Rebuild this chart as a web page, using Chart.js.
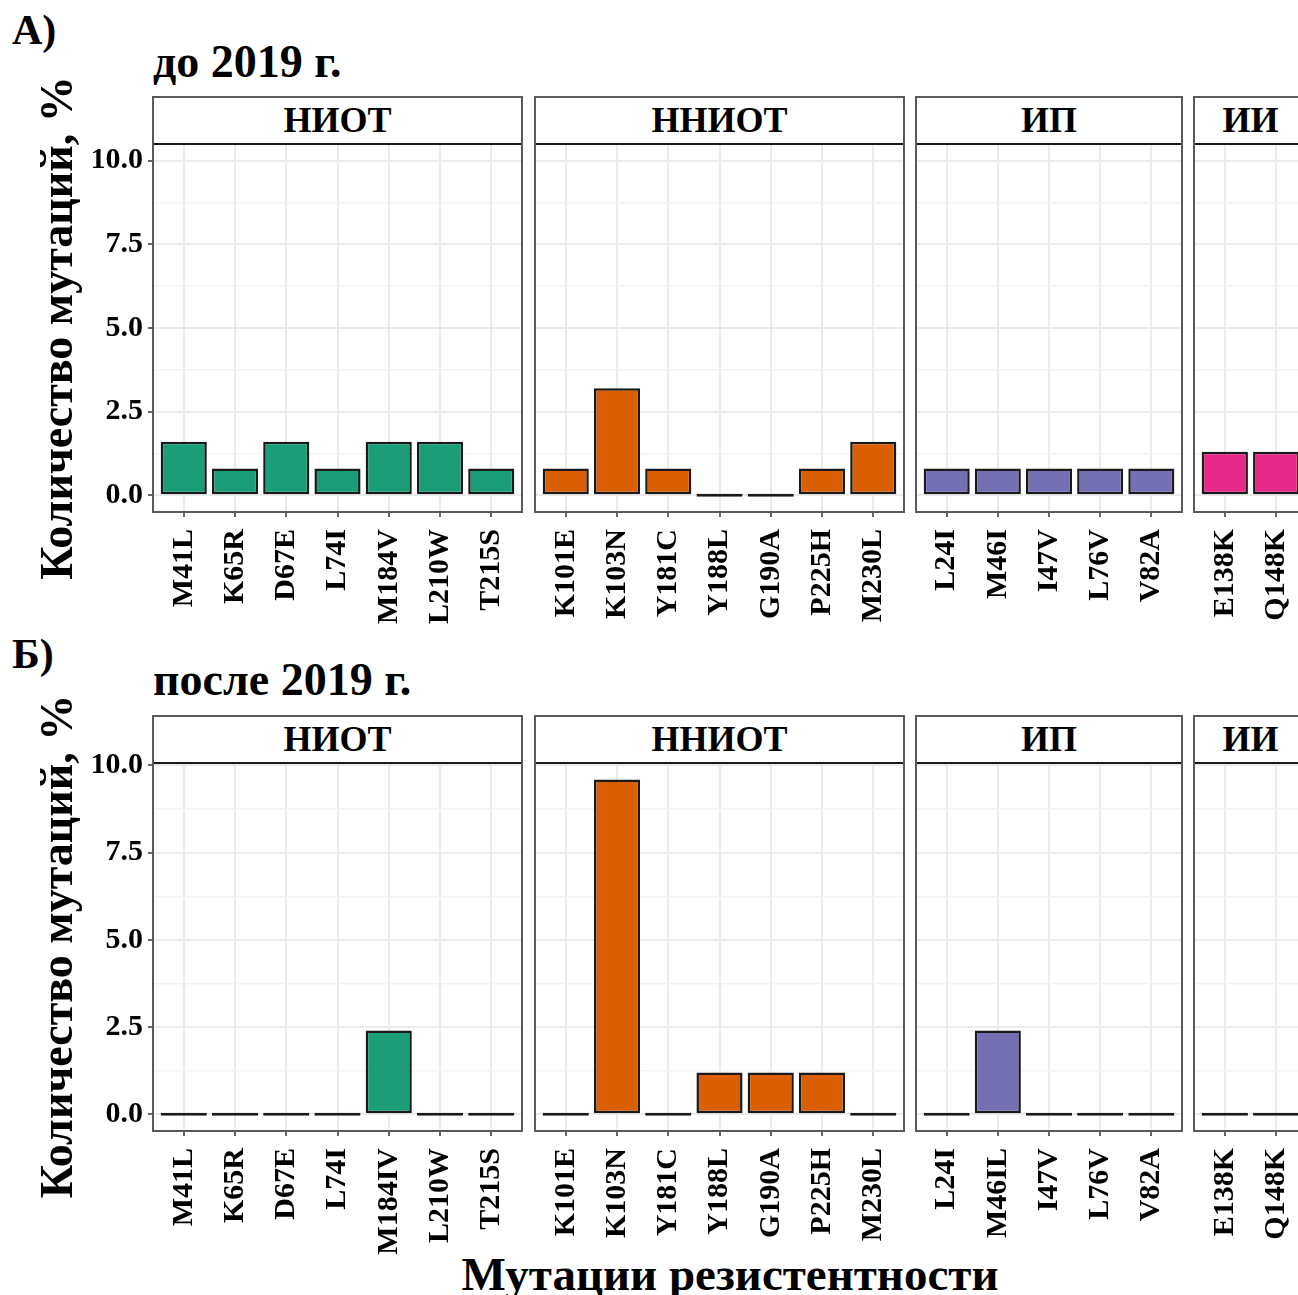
<!DOCTYPE html>
<html>
<head>
<meta charset="utf-8">
<script src="https://cdn.jsdelivr.net/npm/chart.js@4.4.0/dist/chart.umd.min.js"></script>
<style>
  body { margin: 0; background: #fff; }
  #wrap { position: relative; width: 1298px; height: 1295px; overflow: hidden;
          font-family: "Liberation Serif", "Times New Roman", serif; font-weight: bold; color: #000; }
  .lbl { position: absolute; line-height: 1; white-space: nowrap; }
  canvas { position: absolute; z-index: 1; }
  .frame { position: absolute; box-sizing: border-box; border: 2px solid #5a5a5a; z-index: 2; pointer-events: none; }
  .strip { box-sizing: border-box; height: 47px; border-bottom: 2px solid #1a1a1a; background: #fff;
           text-align: center; font-size: 36px; line-height: 45px; }
</style>
</head>
<body>
<div id="wrap">
  <div class="lbl" style="left:12px;top:9px;font-size:42px">А)</div>
  <div class="lbl" style="left:153px;top:39px;font-size:46px">до 2019 г.</div>
  <div class="lbl" style="left:12px;top:633px;font-size:42px">Б)</div>
  <div class="lbl" style="left:153px;top:657px;font-size:46px">после 2019 г.</div>
  <div class="lbl" style="left:730px;top:1251px;font-size:47px;transform:translateX(-50%)">Мутации резистентности</div>
</div>
<script>
// группы препаратов
var groups = ["НИОТ", "ННИОТ", "ИП", "ИИ"];

// мутации (до 2019 г.)
var mutNiot_A = ["M41L", "K65R", "D67E", "L74I", "M184V", "L210W", "T215S"];
var mutNniot = ["K101E", "K103N", "Y181C", "Y188L", "G190A", "P225H", "M230L"];
var mutIp_A = ["L24I", "M46I", "I47V", "L76V", "V82A"];
var mutIi = ["E138K", "Q148K"];

// мутации (после 2019 г.)
var mutNiot_B = ["M41L", "K65R", "D67E", "L74I", "M184IV", "L210W", "T215S"];
var mutIp_B = ["L24I", "M46IL", "I47V", "L76V", "V82A"];

// проценты, до 2019 г.
var valNiot_A = [1.6, 0.8, 1.6, 0.8, 1.6, 1.6, 0.8];
var valNniot_A = [0.8, 3.2, 0.8, 0, 0, 0.8, 1.6];
var valIp_A = [0.8, 0.8, 0.8, 0.8, 0.8];
var valIi_A = [1.3, 1.3];

// проценты, после 2019 г.
var valNiot_B = [0, 0, 0, 0, 2.4, 0, 0];
var valNniot_B = [0, 9.6, 0, 1.2, 1.2, 1.2, 0];
var valIp_B = [0, 2.4, 0, 0, 0];
var valIi_B = [0, 0];

var yTicks = [0, 1.25, 2.5, 3.75, 5, 6.25, 7.5, 8.75, 10];

// оформление
var colors = ["#1b9e77", "#d95f02", "#7570b3", "#e7298a"];
var fontFam = "'Liberation Serif', 'Times New Roman', serif";
var panelX = [[153, 522], [535, 904], [916, 1182], [1194, 1307]];
var rows = [
  { strip: 96, top: 144, bottom: 512, ymin: -0.5, ymax: 10.5 },
  { strip: 715, top: 762, bottom: 1131, ymin: -0.48, ymax: 10.1 }
];

var wrap = document.getElementById("wrap");

function isMajor(v) {
  return Math.abs(v % 2.5) < 1e-9;
}

function drawPanel(row, p, cats, vals) {
  var x0 = panelX[p][0], x1 = panelX[p][1];
  var showY = p === 0;
  var yW = showY ? 124 : 0;
  var padTop = 80, xH = 130;
  var plotH = row.bottom - row.top;

  // рамка и полоса с названием группы
  var frame = document.createElement("div");
  frame.className = "frame";
  frame.style.left = (x0 - 1) + "px";
  frame.style.top = row.strip + "px";
  frame.style.width = (x1 - x0 + 2) + "px";
  frame.style.height = (row.bottom - row.strip + 1) + "px";
  var strip = document.createElement("div");
  strip.className = "strip";
  strip.textContent = groups[p];
  frame.appendChild(strip);
  wrap.appendChild(frame);

  var cv = document.createElement("canvas");
  cv.width = (x1 - x0) + yW;
  cv.height = padTop + plotH + xH;
  cv.style.width = cv.width + "px";
  cv.style.height = cv.height + "px";
  cv.style.left = (x0 - yW) + "px";
  cv.style.top = (row.top - padTop) + "px";
  wrap.appendChild(cv);

  new Chart(cv.getContext("2d"), {
    type: "bar",
    data: {
      datasets: [{
        data: vals.map(function (v, i) { return { x: i + 1, y: v }; }),
        backgroundColor: colors[p],
        borderColor: "#1a1a1a",
        borderWidth: 2.5,
        borderSkipped: false,
        minBarLength: 3,
        barPercentage: 0.9,
        categoryPercentage: 1
      }]
    },
    options: {
      responsive: false,
      animation: false,
      layout: { padding: { top: padTop, left: 0, right: 0, bottom: 0 } },
      plugins: { legend: { display: false }, tooltip: { enabled: false } },
      scales: {
        x: {
          type: "linear",
          offset: false,
          min: 0.4,
          max: cats.length + 0.6,
          afterBuildTicks: function (s) {
            s.ticks = cats.map(function (c, i) { return { value: i + 1 }; });
          },
          afterFit: function (s) {
            s.height = xH;
            s.paddingLeft = 0;
            s.paddingRight = 0;
          },
          border: { display: false },
          grid: { offset: false, color: "#ebebeb", lineWidth: 2, tickLength: 5, tickColor: "#333", tickWidth: 1.5 },
          ticks: {
            autoSkip: false,
            minRotation: 90,
            maxRotation: 90,
            padding: 12,
            color: "#000",
            font: { family: fontFam, size: 30, weight: "bold" },
            callback: function (v) { return cats[v - 1]; }
          }
        },
        y: {
          min: row.ymin,
          max: row.ymax,
          afterBuildTicks: function (s) {
            s.ticks = yTicks.map(function (v) { return { value: v }; });
          },
          afterFit: function (s) {
            s.width = yW;
            s.paddingTop = 0;
            s.paddingBottom = 0;
          },
          border: { display: false },
          grid: {
            drawTicks: showY,
            tickLength: 5,
            tickWidth: 1.5,
            color: function (c) { return isMajor(c.tick.value) ? "#ebebeb" : "#f3f3f3"; },
            lineWidth: function (c) { return isMajor(c.tick.value) ? 2 : 1.5; },
            tickColor: function (c) { return isMajor(c.tick.value) ? "#333" : "rgba(0,0,0,0)"; }
          },
          ticks: {
            display: showY,
            padding: 5,
            color: "#000",
            font: { family: fontFam, size: 30, weight: "bold" },
            callback: function (v) { return isMajor(v) ? v.toFixed(1) : ""; }
          },
          title: {
            display: showY,
            text: "Количество мутаций, %",
            color: "#000",
            font: { family: fontFam, size: 46, weight: "bold" },
            padding: { top: 4, bottom: 0 }
          }
        }
      }
    }
  });
}

drawPanel(rows[0], 0, mutNiot_A, valNiot_A);
drawPanel(rows[0], 1, mutNniot, valNniot_A);
drawPanel(rows[0], 2, mutIp_A, valIp_A);
drawPanel(rows[0], 3, mutIi, valIi_A);

drawPanel(rows[1], 0, mutNiot_B, valNiot_B);
drawPanel(rows[1], 1, mutNniot, valNniot_B);
drawPanel(rows[1], 2, mutIp_B, valIp_B);
drawPanel(rows[1], 3, mutIi, valIi_B);
</script>
</body>
</html>
